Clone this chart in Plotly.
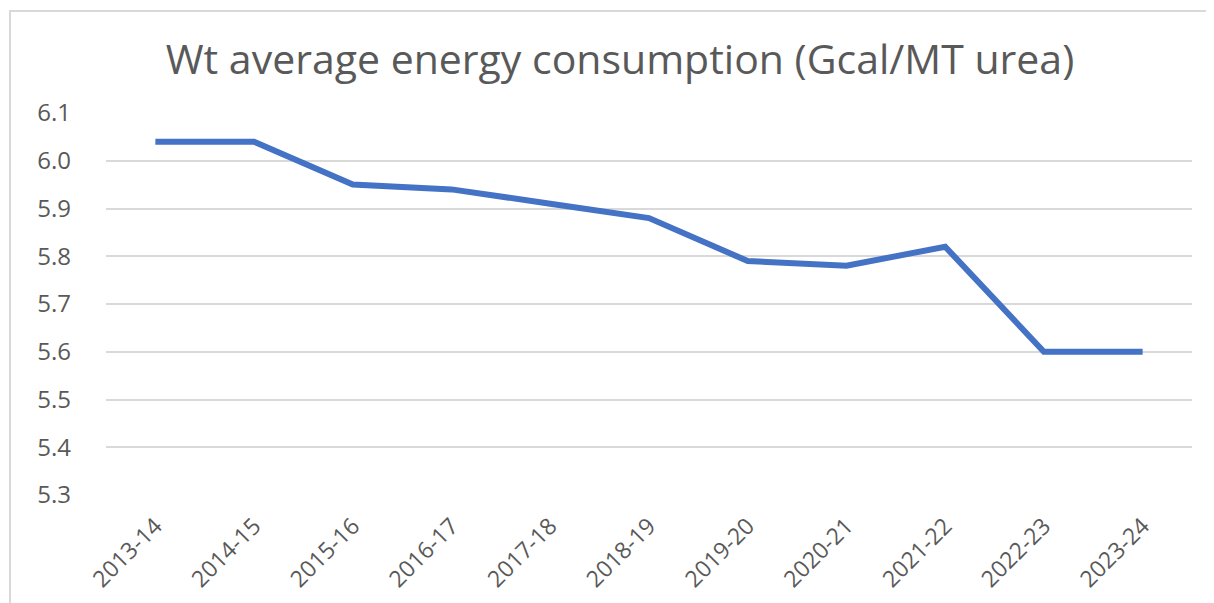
import plotly.graph_objects as go

years = ["2013-14", "2014-15", "2015-16", "2016-17", "2017-18", "2018-19",
         "2019-20", "2020-21", "2021-22", "2022-23", "2023-24"]
energy = [6.04, 6.04, 5.95, 5.94, 5.91, 5.88, 5.79, 5.78, 5.82, 5.60, 5.60]
y_ticks = [5.3, 5.4, 5.5, 5.6, 5.7, 5.8, 5.9, 6.0, 6.1]

# the page adds an 8px body margin, so figure coords = screen coords - 8
OFF = 8
W, H = 1214, 603
ml = 106 - OFF
mt = 113 - OFF
mr = W - (1192 - OFF)
mb = H - (495 - OFF)
pw, ph = W - ml - mr, H - mt - mb

def px_x(x):
    return (x - OFF - ml) / pw

def px_y(y):
    return (H - mb - (y - OFF)) / ph

fig = go.Figure()
fig.add_trace(go.Scatter(
    x=years, y=energy, mode="lines",
    line=dict(color="#4472C4", width=6),
    hoverinfo="x+y", showlegend=False,
))

fig.update_layout(
    width=W, height=H,
    margin=dict(l=ml, r=mr, t=mt, b=mb),
    paper_bgcolor="white", plot_bgcolor="white",
    title=dict(
        text="Wt average energy consumption (Gcal/MT urea)",
        x=(620 - OFF) / W, xanchor="center", xref="container",
        y=1 - (60 - OFF) / H, yanchor="middle", yref="container",
        font=dict(family="Open Sans, Calibri, sans-serif", size=41, color="#595959"),
    ),
    font=dict(family="Open Sans, Calibri, sans-serif", color="#595959"),
    xaxis=dict(
        type="category", range=[-0.5, len(years) - 0.5],
        tickangle=-45, tickfont=dict(size=23, color="#595959"),
        showgrid=False, zeroline=False, showline=False, ticks="",
        ticklabelstandoff=12,
    ),
    yaxis=dict(
        range=[5.3, 6.1], tickvals=y_ticks,
        ticktext=[f"{v:.1f}" for v in y_ticks],
        tickfont=dict(size=24, color="#595959"),
        showgrid=True, gridcolor="#D9D9D9", gridwidth=2,
        zeroline=False, showline=False, ticks="", ticklabelstandoff=34,
    ),
    shapes=[dict(
        type="rect", xref="paper", yref="paper",
        x0=px_x(10), x1=px_x(1240), y0=px_y(640), y1=px_y(11),
        line=dict(color="#D9D9D9", width=2), fillcolor="rgba(0,0,0,0)",
        layer="below",
    )],
)

fig.write_html("out.html")
